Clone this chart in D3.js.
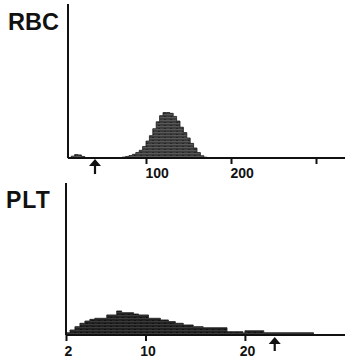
<!DOCTYPE html>
<html>
<head>
<meta charset="utf-8">
<script src="https://cdn.jsdelivr.net/npm/d3@7"></script>
<style>
  body { margin: 0; background: #fff; }
  svg { display: block; }
  text { font-family: "Liberation Sans", Arial, sans-serif; font-weight: bold; fill: #111; }
</style>
</head>
<body>
<div id="chart"></div>
<script>
// RBC histogram (fl), bin edges and relative counts
var rbcEdges  = [8, 12, 16, 20, 24, 28, 32, 72, 76, 80, 84, 88, 92, 96, 100, 104, 108, 112, 116, 120, 124, 128, 132, 136, 140, 144, 148, 152, 156, 160, 164, 168, 172];
var rbcCounts = [0.3, 1.2, 2.2, 2, 1, 0.3, 0, 0.6, 1, 1.6, 2.4, 3.6, 5, 7.5, 11, 14.5, 19, 23.5, 27.5, 29.5, 29.5, 29, 27, 24, 20, 16.5, 13, 9.5, 6.5, 3.5, 1.5, 0.5];
var rbcTicks  = [100, 200, 300];
var rbcTickLabels = ["100", "200", ""];
var rbcMarker = 40;

// PLT histogram (fl)
var pltEdges  = [2, 2.4, 2.9, 3.4, 3.9, 4.4, 4.9, 6.1, 7.1, 7.6, 8.8, 9.3, 10.3, 11.5, 12.3, 13.0, 13.8, 14.8, 15.8, 18.2, 19.8, 20.0, 21.9, 26.9];
var pltCounts = [1.5, 3.3, 5.5, 7.7, 9.2, 10.3, 11, 13.2, 15.8, 14.7, 13.8, 13.2, 11, 9.9, 8.8, 7.7, 6.6, 5.5, 4.8, 2.2, 1.3, 2.8, 1.5];
var pltTicks  = [2, 10, 20];
var pltTickLabels = ["2", "10", "20"];
var pltMarker = 23;

var W = 345, H = 358;
var svg = d3.select("#chart").append("svg").attr("width", W).attr("height", H);

var defs = svg.append("defs");
function grain(id, base, light, dark){
    var pat = defs.append("pattern")
        .attr("id", id)
        .attr("patternUnits", "userSpaceOnUse")
        .attr("width", 6).attr("height", 3);
    pat.append("rect").attr("width", 6).attr("height", 3).attr("fill", base);
    pat.append("rect").attr("width", 6).attr("height", 1).attr("fill", light);
    pat.append("rect").attr("x", 2).attr("y", 2).attr("width", 2).attr("height", 1).attr("fill", dark);
}
grain("grainRbc", "#3c3c3c", "#585858", "#262626");
grain("grainPlt", "#222", "#3a3a3a", "#111");

function histogram(opt){
    var g = svg.append("g");
    var x = d3.scaleLinear().domain(opt.xDomain).range(opt.xRange);
    var y = d3.scaleLinear().domain([0, 100]).range([opt.base, opt.top]);

    var pts = opt.edges.map(function(e, i){
        return {x: e, y: i < opt.counts.length ? opt.counts[i] : 0};
    });
    var area = d3.area()
        .curve(d3.curveStepAfter)
        .x(function(d){ return x(d.x); })
        .y0(opt.base)
        .y1(function(d){ return y(d.y); });

    g.append("path")
        .datum(pts)
        .attr("d", area)
        .attr("fill", "url(#" + opt.fill + ")")
        .attr("stroke", "#1a1a1a")
        .attr("stroke-width", 0.8);

    // axes
    g.append("line")
        .attr("x1", opt.axisX).attr("x2", opt.axisX)
        .attr("y1", opt.axisTop).attr("y2", opt.base)
        .attr("stroke", "#111").attr("stroke-width", 2);
    g.append("line")
        .attr("x1", opt.axisX).attr("x2", W)
        .attr("y1", opt.base).attr("y2", opt.base)
        .attr("stroke", "#111").attr("stroke-width", 2);

    var xAxis = d3.axisBottom(x)
        .tickValues(opt.ticks)
        .tickSize(6)
        .tickFormat(function(d, i){ return opt.tickLabels[i]; });
    var ax = g.append("g")
        .attr("transform", "translate(0," + opt.base + ")")
        .call(xAxis);
    ax.select(".domain").remove();
    ax.selectAll(".tick line").attr("stroke", "#111").attr("stroke-width", 2);
    ax.selectAll(".tick text")
        .attr("y", opt.labelDy)
        .attr("dy", 0)
        .attr("dx", opt.labelDx)
        .style("text-anchor", opt.anchor)
        .style("font-size", "14px")
        .style("font-family", "Liberation Sans, Arial, sans-serif")
        .style("font-weight", "bold")
        .attr("fill", "#111");

    // discriminator arrow
    var mx = x(opt.marker);
    var t = opt.base + opt.arrowOff;
    g.append("path")
        .attr("d", "M" + mx + "," + t + "L" + (mx - 6) + "," + (t + 7) + "L" + (mx + 6) + "," + (t + 7) + "Z")
        .attr("fill", "#111");
    g.append("line")
        .attr("x1", mx).attr("x2", mx)
        .attr("y1", t + 5).attr("y2", t + opt.arrowLen)
        .attr("stroke", "#111").attr("stroke-width", 2.2);

    svg.append("text")
        .attr("x", opt.titleX).attr("y", opt.titleY)
        .style("font-size", opt.titleSize + "px")
        .style("letter-spacing", opt.titleSpacing + "px")
        .text(opt.title);
}

histogram({
    title: "RBC", titleX: 8, titleY: 30, titleSize: 23.5, titleSpacing: 0,
    edges: rbcEdges, counts: rbcCounts, fill: "grainRbc",
    xDomain: [0, 335], xRange: [61, 345.75],
    axisX: 68, axisTop: 4, base: 158, top: 4,
    ticks: rbcTicks, tickLabels: rbcTickLabels,
    anchor: "start", labelDx: -1, labelDy: 20,
    marker: rbcMarker, arrowOff: 1, arrowLen: 15
});

histogram({
    title: "PLT", titleX: 6, titleY: 208, titleSize: 23, titleSpacing: 1,
    edges: pltEdges, counts: pltCounts, fill: "grainPlt",
    xDomain: [2, 30], xRange: [66, 344.3],
    axisX: 66, axisTop: 183, base: 335, top: 183,
    ticks: pltTicks, tickLabels: pltTickLabels,
    anchor: "middle", labelDx: 2, labelDy: 21,
    marker: pltMarker, arrowOff: 2, arrowLen: 14
});
</script>
</body>
</html>
